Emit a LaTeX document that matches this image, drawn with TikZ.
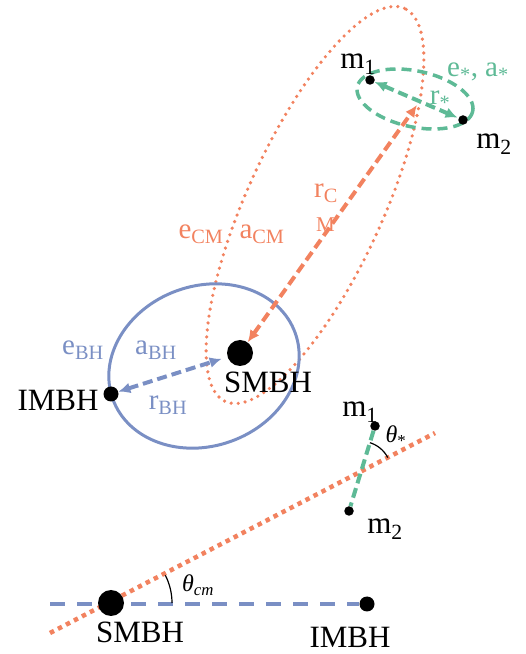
\documentclass[tikz,border=0pt]{standalone}
\usepackage{fontspec}
\setmainfont{Liberation Serif}
\usetikzlibrary{arrows.meta,positioning}
\definecolor{cmorange}{RGB}{242,130,95}
\definecolor{bingreen}{RGB}{94,186,150}
\definecolor{bhblue}{RGB}{122,143,196}

\begin{document}
\begin{tikzpicture}[x=1pt, y=1pt,
  bigdot/.style={circle, fill=black, inner sep=0pt, minimum size=26pt},
  middot/.style={circle, fill=black, inner sep=0pt, minimum size=15pt},
  smalldot/.style={circle, fill=black, inner sep=0pt, minimum size=9.5pt},
  lbl/.style={font=\fontsize{31}{34}\selectfont, inner sep=0pt},
  clbl/.style={font=\fontsize{29}{32}\selectfont, inner sep=0pt},
  anglbl/.style={font=\fontsize{24}{26}\selectfont, inner sep=0pt},
  tipend/.tip={Latex[length=12pt,width=11pt]},
  orbitcm/.style={draw=cmorange, line width=3.6pt, line cap=round,
                  dash pattern=on 0pt off 7pt},
  orbitbh/.style={draw=bhblue, line width=3pt},
  orbitbin/.style={draw=bingreen, line width=3.5pt, dash pattern=on 10pt off 6pt},
  cmarr/.style={tipend-tipend, draw=cmorange, line width=4pt,
                dash pattern=on 10pt off 5pt},
  bharr/.style={tipend-tipend, draw=bhblue, line width=4pt,
                dash pattern=on 10pt off 5pt},
  binarr/.style={tipend-tipend, draw=bingreen, line width=4pt,
                 dash pattern=on 10pt off 5pt},
  losline/.style={draw=cmorange, line width=4.5pt, dash pattern=on 4.5pt off 4.5pt},
  binline/.style={draw=bingreen, line width=4pt, dash pattern=on 10pt off 5pt},
  planeline/.style={draw=bhblue, line width=4.5pt, dash pattern=on 15pt off 12pt},
  angarc/.style={draw=black, line width=1.2pt}
]
\useasboundingbox (0,0) rectangle (526,654);

% orbits
\draw[orbitcm, rotate around={65.5:(315,449)}] (315,449) ellipse [x radius=216pt, y radius=68pt];
\draw[orbitbh, rotate around={20:(204,288)}] (204,288) ellipse [x radius=97pt, y radius=80pt];
\draw[orbitbin, rotate around={-12:(415,555)}] (415,555) ellipse [x radius=59pt, y radius=28pt];

% bodies, top view
\node[bigdot]   (smbh) at (240,301) {};
\node[middot]   (imbh) at (111,260) {};
\node[smalldot] (m1)   at (370,574) {};
\node[smalldot] (m2)   at (463,534) {};
\coordinate (cm) at (417,549);

\draw[cmarr] (smbh) -- (cm);
\draw[bharr, shorten >=6pt] (imbh) -- (smbh);
\draw[binarr, shorten >=1pt] (m1) -- (m2);

\node[lbl] (smbhlbl) at (268,272) {SMBH};
\node[lbl] (imbhlbl) at (58,254) {IMBH};
\node[lbl] (m1lbl) at (358,590) {m\textsubscript{1}};
\node[lbl] (m2lbl) at (494,510) {m\textsubscript{2}};

\node[clbl, text=bingreen] (binlbl) at (478,582) {e\textsubscript{*}, a\textsubscript{*}};
\node[clbl, text=bingreen] (rbinlbl) at (440,554) {r\textsubscript{*}};
\node[clbl, text=cmorange, align=left] (rcmlbl) at (326,446)
  {r\textsubscript{C}\\[2pt]\hspace*{2pt}{\fontsize{21}{22}\selectfont M}};
\node[clbl, text=cmorange] (ecmlbl) at (201,420) {e\textsubscript{CM}};
\node[clbl, text=cmorange] (acmlbl) at (262,420) {a\textsubscript{CM}};
\node[clbl, text=bhblue] (ebhlbl) at (83,304) {e\textsubscript{BH}};
\node[clbl, text=bhblue] (abhlbl) at (156,304) {a\textsubscript{BH}};
\node[clbl, text=bhblue] (rbhlbl) at (168,249) {r\textsubscript{BH}};

% side view
\coordinate (los1) at (50,21);
\coordinate (los2) at (435,221);
\coordinate (pl) at (50,50);
\node[smalldot] (p1) at (375,228) {};
\node[smalldot] (p2) at (349,143) {};
\draw[losline] (los1) -- (los2);
\draw[binline] (p1) -- (p2);
\coordinate (xs) at (intersection of p1--p2 and los1--los2);
\draw[angarc] (xs) ++(27.4:30) arc [start angle=27.4, end angle=73, radius=30pt];
\node[anglbl] (thstar) at (396,218) {\textit{θ}\textsubscript{*}};
\node[lbl] (p1lbl) at (360,242) {m\textsubscript{1}};
\node[lbl] (p2lbl) at (385,125) {m\textsubscript{2}};

\node[middot] (imbhb) at (367,50) {};
\draw[planeline] (pl) -- (imbhb);
\node[bigdot] (smbhb) at (111,51) {};
\draw[angarc] (smbhb.center) ++(0:61) arc [start angle=0, end angle=27, radius=61pt];
\node[anglbl] (thcm) at (198,69) {\textit{θ}\textsubscript{\textit{cm}}};
\node[lbl] (smbhblbl) at (140,22) {SMBH};
\node[lbl] (imbhblbl) at (350,17) {IMBH};
\end{tikzpicture}
\end{document}
